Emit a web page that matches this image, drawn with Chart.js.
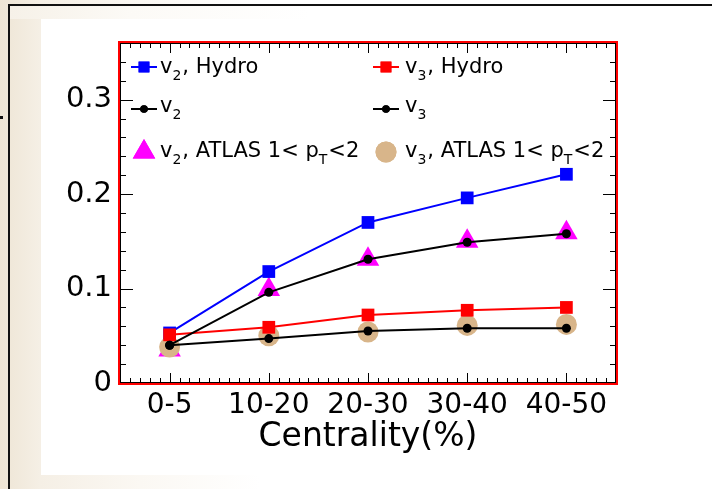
<!DOCTYPE html>
<html>
<head>
<meta charset="utf-8">
<script src="https://cdn.jsdelivr.net/npm/chart.js@4.4.0/dist/chart.umd.min.js"></script>
<style>
  html, body { margin: 0; padding: 0; }
  body {
    width: 712px; height: 489px; overflow: hidden; position: relative;
    background: linear-gradient(to right, #eee5d5 0px, #f5efe5 40px, #fbf8f3 140px, #ffffff 260px);
  }
  .panel { position: absolute; left: 41px; top: 19px; width: 671px; height: 456px; background: #fff; }
  .topband { position: absolute; left: 10px; top: 6px; width: 702px; height: 13px;
    background: linear-gradient(to right, #f6f1e8 0px, #fcfaf6 120px, #ffffff 300px); }
  .line-h { position: absolute; left: 8px; top: 4px; width: 704px; height: 2px; background: #111; }
  .line-v { position: absolute; left: 8px; top: 4px; width: 2px; height: 485px; background: #111; }
  .mark { position: absolute; left: 0px; top: 116px; width: 3px; height: 3px; background: #111; }
  canvas { position: absolute; left: 0; top: 0; }
</style>
</head>
<body>
<div class="topband"></div>
<div class="panel"></div>
<div class="line-h"></div>
<div class="line-v"></div>
<div class="mark"></div>
<canvas id="flow-chart" width="712" height="489"></canvas>
<script>
// centrality bins and flow values
const categories = ['0-5', '10-20', '20-30', '30-40', '40-50'];
const v2Hydro = [0.053, 0.118, 0.170, 0.196, 0.221];
const v3Hydro = [0.051, 0.059, 0.072, 0.077, 0.080];
const v2Calc = [0.040, 0.096, 0.131, 0.149, 0.158];
const v3Calc = [0.040, 0.047, 0.055, 0.058, 0.058];
const v2Atlas = [0.035, 0.099, 0.131, 0.150, 0.159];
const v3Atlas = [0.038, 0.050, 0.054, 0.061, 0.062];
const yTicks = [0, 0.1, 0.2, 0.3];
const yMax = 0.36;

// legend labels, [text, isSubscript]
const labelV2Hydro = [['v', 0], ['2', 1], [', Hydro', 0]];
const labelV3Hydro = [['v', 0], ['3', 1], [', Hydro', 0]];
const labelV2 = [['v', 0], ['2', 1]];
const labelV3 = [['v', 0], ['3', 1]];
const labelV2Atlas = [['v', 0], ['2', 1], [', ATLAS 1< p', 0], ['T', 1], ['<2', 0]];
const labelV3Atlas = [['v', 0], ['3', 1], [', ATLAS 1< p', 0], ['T', 1], ['<2', 0]];

const FONT = "'DejaVu Sans', sans-serif";

function lineSet(label, data, color, style, radius, order) {
    return {
        label: label, data: data, order: order,
        borderColor: color, backgroundColor: color, borderWidth: 2,
        pointStyle: style, pointRadius: radius, pointHoverRadius: radius,
        pointBorderWidth: 0, showLine: true, tension: 0
    };
}

function markerSet(label, data, color, style, radius, order) {
    return {
        label: label, data: data, order: order,
        borderColor: color, backgroundColor: color, borderWidth: 0,
        pointStyle: style, pointRadius: radius, pointHoverRadius: radius,
        pointBorderWidth: 0, showLine: false
    };
}

const datasets = [
    lineSet(labelV2Hydro, v2Hydro, '#0000ff', 'rect', 9, 3),
    lineSet(labelV3Hydro, v3Hydro, '#ff0000', 'rect', 9, 2),
    lineSet(labelV2, v2Calc, '#000000', 'circle', 4.5, 1),
    lineSet(labelV3, v3Calc, '#000000', 'circle', 4.5, 0),
    markerSet(labelV2Atlas, v2Atlas, '#ff00ff', 'triangle', 13, 5),
    markerSet(labelV3Atlas, v3Atlas, '#d8b58a', 'circle', 10.5, 4)
];

// legend slot for each dataset: column, row
const legendSlots = [[0, 0], [1, 0], [0, 1], [1, 1], [0, 2], [1, 2]];
const colMarkX = [24, 266], colTextX = [40, 285];
const rowMarkY = [24, 66, 109], rowTextY = [30, 69, 114];

function drawRichText(ctx, parts, x, y) {
    parts.forEach(function(p) {
        const sub = p[1];
        ctx.font = (sub ? 14 : 21) + 'px ' + FONT;
        ctx.fillText(p[0], x, sub ? y + 7 : y);
        x += ctx.measureText(p[0]).width + (sub ? 1 : 0);
    });
}

const rootFrame = {
    id: 'rootFrame',
    afterDraw(chart) {
        const ctx = chart.ctx;
        const a = chart.chartArea;
        const xs = chart.scales.x, ys = chart.scales.y;
        ctx.save();

        // inward tick marks on all four sides
        ctx.strokeStyle = '#000';
        ctx.lineWidth = 1;
        ctx.beginPath();
        for (let i = 0; i <= 18; i++) {
            const v = i * 0.02;
            const py = Math.round(ys.getPixelForValue(v)) + 0.5;
            const len = (i % 5 === 0) ? 13 : 6;
            ctx.moveTo(a.left, py); ctx.lineTo(a.left + len, py);
            ctx.moveTo(a.right, py); ctx.lineTo(a.right - len, py);
        }
        for (let i = -5; i <= 45; i++) {
            const px = Math.round(xs.getPixelForValue(i / 10)) + 0.5;
            const len = (i % 10 === 0) ? 10 : 5;
            ctx.moveTo(px, a.bottom); ctx.lineTo(px, a.bottom - len);
            ctx.moveTo(px, a.top); ctx.lineTo(px, a.top + len);
        }
        ctx.stroke();

        // frame: thin black inside, red outside
        ctx.strokeStyle = '#000';
        ctx.lineWidth = 1;
        ctx.strokeRect(a.left + 0.5, a.top + 0.5, a.right - a.left - 1, a.bottom - a.top - 1);
        ctx.strokeStyle = '#ff0000';
        ctx.lineWidth = 2;
        ctx.strokeRect(a.left - 1, a.top - 1, a.right - a.left + 2, a.bottom - a.top + 2);

        // legend inside the frame
        chart.data.datasets.forEach(function(ds, i) {
            const slot = legendSlots[i];
            const mx = a.left + colMarkX[slot[0]];
            const my = a.top + rowMarkY[slot[1]];
            if (ds.showLine) {
                ctx.strokeStyle = ds.borderColor;
                ctx.lineWidth = 2;
                ctx.beginPath();
                ctx.moveTo(mx - 13, my); ctx.lineTo(mx + 13, my);
                ctx.stroke();
                ctx.fillStyle = ds.backgroundColor;
                Chart.helpers.drawPoint(ctx, {pointStyle: ds.pointStyle, radius: ds.pointRadius * 0.85, borderWidth: 0}, mx, my);
                ctx.fill();
            } else {
                ctx.fillStyle = ds.backgroundColor;
                Chart.helpers.drawPoint(ctx, {pointStyle: ds.pointStyle, radius: ds.pointRadius, borderWidth: 0}, mx, my);
                ctx.fill();
            }
            ctx.fillStyle = '#000';
            ctx.textBaseline = 'alphabetic';
            ctx.textAlign = 'left';
            drawRichText(ctx, ds.label, a.left + colTextX[slot[0]], a.top + rowTextY[slot[1]]);
        });
        ctx.restore();
    }
};

const ctx = document.getElementById('flow-chart').getContext('2d');
const flowChart = new Chart(ctx, {
    type: 'line',
    data: { labels: categories, datasets: datasets },
    options: {
        responsive: false,
        animation: false,
        events: [],
        layout: { padding: { left: 0, top: 43, right: 96, bottom: 0 } },
        plugins: { legend: { display: false }, tooltip: { enabled: false } },
        scales: {
            x: {
                type: 'category',
                offset: true,
                grid: { display: false, drawTicks: false },
                border: { display: false },
                ticks: { color: '#000', padding: 6, font: { family: FONT, size: 28 } },
                title: {
                    display: true, text: 'Centrality(%)', color: '#000',
                    font: { family: FONT, size: 33 }, padding: { top: 0, bottom: 32 }
                },
                afterFit: function(scale) { scale.height = 106; }
            },
            y: {
                min: 0, max: yMax,
                grid: { display: false, drawTicks: false },
                border: { display: false },
                afterBuildTicks: function(scale) {
                    scale.ticks = yTicks.map(function(v) { return { value: v }; });
                },
                ticks: {
                    color: '#000', padding: 8, font: { family: FONT, size: 29 },
                    callback: function(v) { return String(+Number(v).toFixed(2)); }
                },
                afterFit: function(scale) { scale.width = 120; }
            }
        }
    },
    plugins: [rootFrame]
});
</script>
</body>
</html>
